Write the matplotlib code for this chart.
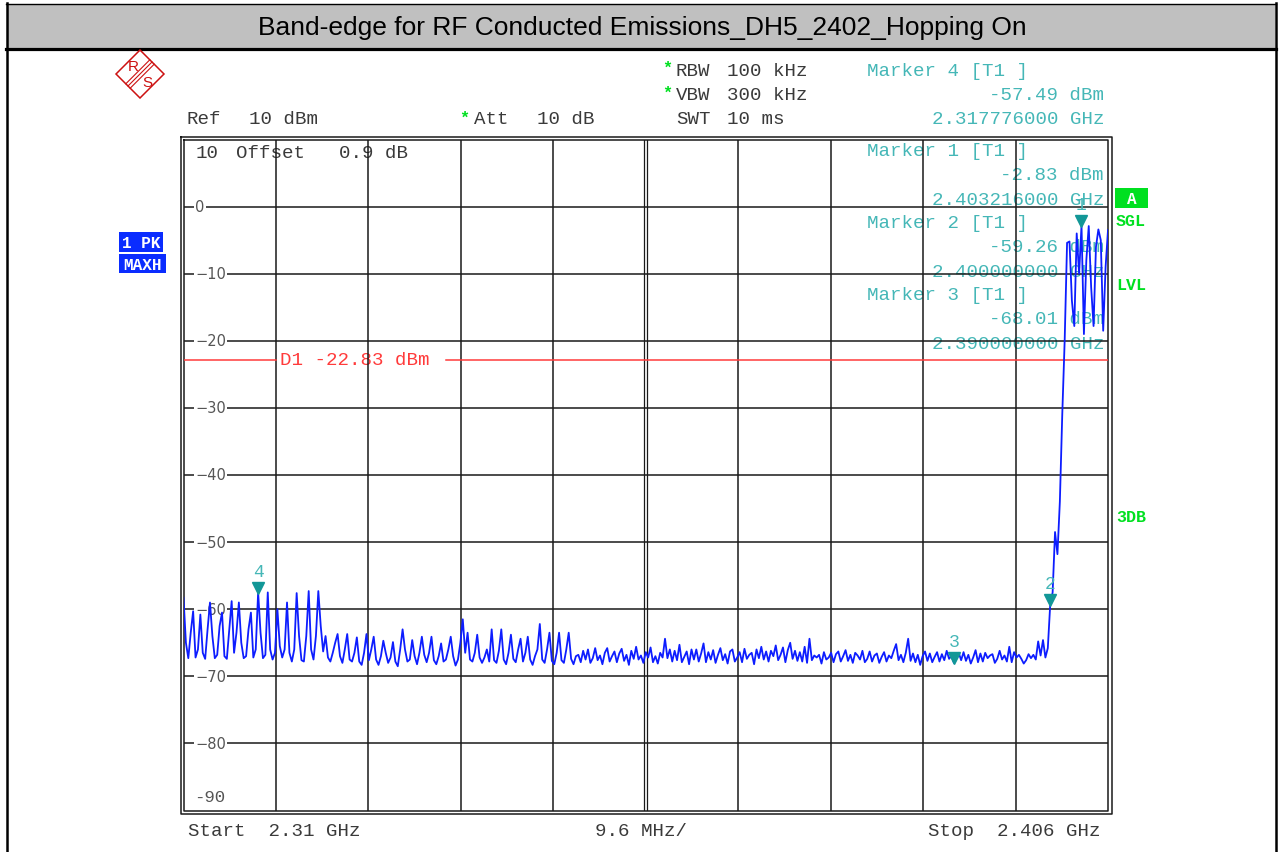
import numpy as np
import matplotlib
matplotlib.use("Agg")
import matplotlib.pyplot as plt
from matplotlib.lines import Line2D
from matplotlib.patches import Rectangle, Polygon
import matplotlib.transforms as mtransforms

# ---------------- data ----------------
title = "Band-edge for RF Conducted Emissions_DH5_2402_Hopping On"
start_mhz = 2310.0
stop_mhz = 2406.0
div_mhz = 9.6
ref_level_dbm = 10
db_per_div = 10
y_tick_values = [0, -10, -20, -30, -40, -50, -60, -70, -80]
bottom_label_value = -90
display_line_dbm = -22.83

trace_step_mhz = 0.25
# levels every 0.25 MHz, one row per MHz starting at 2310 MHz
trace_dbm = [
    -58.3, -65.0, -67.3, -63.5,   # 2310
    -60.3, -67.2, -66.0, -60.8,   # 2311
    -66.5, -67.4, -63.0, -59.0,   # 2312
    -64.0, -67.3, -66.8, -62.5,   # 2313
    -60.5, -67.0, -67.4, -63.0,   # 2314
    -58.8, -66.5, -63.5, -59.0,   # 2315
    -65.0, -67.3, -67.0, -63.0,   # 2316
    -60.5, -67.2, -66.0, -57.5,   # 2317
    -63.5, -67.3, -66.8, -57.5,   # 2318
    -66.0, -67.5, -66.5, -60.0,   # 2319
    -65.5, -67.2, -66.0, -59.0,   # 2320
    -66.5, -67.8, -66.0, -57.6,   # 2321
    -64.0, -67.6, -67.8, -64.0,   # 2322
    -57.3, -66.0, -67.5, -64.0,   # 2323
    -57.3, -62.5, -66.3, -64.0,   # 2324
    -67.2, -67.8, -66.5, -65.0,   # 2325
    -63.7, -67.0, -68.0, -66.0,   # 2326
    -63.7, -67.5, -67.8, -66.5,   # 2327
    -64.2, -67.8, -68.3, -66.5,   # 2328
    -63.7, -67.6, -66.0, -64.1,   # 2329
    -67.5, -68.3, -67.0, -64.7,   # 2330
    -66.5, -68.0, -67.2, -64.9,   # 2331
    -67.8, -68.5, -66.0, -63.0,   # 2332
    -66.0, -67.8, -67.5, -64.6,   # 2333
    -67.0, -68.2, -66.5, -64.1,   # 2334
    -66.8, -67.9, -66.5, -64.1,   # 2335
    -67.6, -68.2, -67.0, -65.1,   # 2336
    -67.8, -67.5, -66.0, -64.1,   # 2337
    -67.0, -68.4, -67.5, -65.0,   # 2338
    -61.5, -66.5, -63.5, -67.5,   # 2339
    -67.8, -66.5, -63.8, -67.2,   # 2340
    -68.0, -67.2, -66.0, -67.8,   # 2341
    -63.0, -67.6, -68.0, -66.2,   # 2342
    -63.0, -67.5, -68.2, -66.5,   # 2343
    -63.8, -67.4, -67.9, -66.0,   # 2344
    -64.4, -67.8, -66.5, -64.1,   # 2345
    -67.5, -68.3, -67.0, -66.0,   # 2346
    -62.2, -67.5, -68.0, -66.0,   # 2347
    -63.5, -67.7, -68.2, -66.5,   # 2348
    -63.5, -67.6, -68.0, -66.0,   # 2349
    -63.5, -67.4, -68.2, -67.0,   # 2350
    -66.8, -67.9, -66.2, -67.5,   # 2351
    -66.0, -68.0, -67.3, -65.8,   # 2352
    -67.6, -66.9, -68.2, -66.5,   # 2353
    -65.8, -67.8, -67.0, -66.3,   # 2354
    -67.9, -66.6, -65.9, -67.7,   # 2355
    -66.8, -68.3, -66.2, -67.4,   # 2356
    -65.6, -67.5, -66.9, -68.0,   # 2357
    -66.4, -67.2, -65.7, -67.9,   # 2358
    -67.0, -68.1, -66.5, -67.2,   # 2359
    -64.4, -67.3, -66.0, -67.8,   # 2360
    -66.2, -67.6, -65.3, -67.9,   # 2361
    -67.1, -66.3, -68.2, -66.0,   # 2362
    -67.5, -66.0, -67.8, -66.6,   # 2363
    -65.1, -67.9, -66.4, -67.5,   # 2364
    -66.1, -68.0, -66.8, -65.8,   # 2365
    -67.6, -66.7, -68.1, -66.3,   # 2366
    -66.0, -67.8, -67.2, -66.4,   # 2367
    -67.9, -65.9, -67.4, -66.8,   # 2368
    -66.5, -68.2, -66.0, -67.3,   # 2369
    -65.6, -67.5, -66.3, -67.8,   # 2370
    -66.2, -67.0, -65.4, -67.6,   # 2371
    -66.8, -65.7, -67.9, -66.1,   # 2372
    -65.0, -67.4, -66.2, -67.7,   # 2373
    -66.4, -67.8, -65.6, -68.0,   # 2374
    -64.4, -67.6, -66.9, -67.2,   # 2375
    -66.8, -68.1, -66.4, -67.5,   # 2376
    -67.2, -66.5, -67.9, -66.7,   # 2377
    -66.3, -67.8, -67.0, -66.1,   # 2378
    -67.7, -66.8, -68.0, -66.5,   # 2379
    -66.9, -67.5, -66.2, -67.9,   # 2380
    -67.4, -66.3, -67.8, -66.9,   # 2381
    -66.6, -68.0, -67.1, -66.4,   # 2382
    -67.8, -66.9, -67.3, -66.2,   # 2383
    -65.2, -67.6, -66.8, -67.9,   # 2384
    -66.5, -64.4, -67.7, -66.6,   # 2385
    -67.9, -66.8, -68.3, -67.0,   # 2386
    -66.3, -67.7, -66.6, -67.9,   # 2387
    -67.1, -66.4, -67.8, -66.7,   # 2388
    -67.6, -66.2, -67.4, -66.9,   # 2389
    -68.0, -67.0, -66.5, -67.6,   # 2390
    -66.4, -67.7, -66.8, -68.1,   # 2391
    -67.2, -66.1, -67.9, -66.6,   # 2392
    -67.8, -66.5, -67.3, -66.9,   # 2393
    -66.7, -68.0, -67.4, -66.2,   # 2394
    -67.5, -66.9, -67.8, -65.6,   # 2395
    -67.9, -66.4, -67.2, -66.8,   # 2396
    -67.4, -68.1, -67.6, -66.7,   # 2397
    -67.3, -66.8, -67.5, -64.8,   # 2398
    -66.9, -64.6, -67.2, -65.8,   # 2399
    -59.3, -57.5, -48.5, -51.8,   # 2400
    -44.0, -31.0, -20.0, -5.4,    # 2401
    -5.2, -14.0, -17.8, -4.0,     # 2402
    -10.0, -2.83, -19.0, -8.0,    # 2403
    -2.9, -12.0, -17.8, -6.0,     # 2404
    -3.4, -5.0, -18.5, -9.0,      # 2405
    -3.5,                         # 2406
]

marker_ids = [4, 1, 2, 3]
marker_freq_ghz = [2.317776, 2.403216, 2.400000, 2.390000]
marker_dbm = [-57.49, -2.83, -59.26, -68.01]

# ---------------- layout ----------------
W, H = 1279, 853
fig = plt.figure(figsize=(W / 100, H / 100), dpi=100)
fig.patch.set_facecolor("white")

AX_L, AX_R, AX_T, AX_B = 183.5, 1108.0, 140.5, 811.5
ax = fig.add_axes([AX_L / W, 1 - AX_B / H, (AX_R - AX_L) / W, (AX_B - AX_T) / H])
ax.set_xlim(start_mhz, stop_mhz)
ax.set_ylim(ref_level_dbm - 10 * db_per_div, ref_level_dbm)
ax.axis("off")

MONO = "Liberation Mono"
SANS = "Liberation Sans"
TEAL_TXT = "#45b7b7"
TEAL_MK = "#129797"
GREEN = "#00e020"
BLUE_BOX = "#0a2cff"
RED = "#ff3b3b"
GRID = "#1a1a1a"
TXT = "#3a3a3a"

figT = fig.transFigure


def fx(x):
    return x / W


def fy(y):
    return 1 - y / H


def ftext(x, y, s, **kw):
    kw.setdefault("clip_on", False)
    kw.setdefault("zorder", 0.5)
    return ax.text(fx(x), fy(y), s, transform=figT, **kw)


def fline(xs, ys, **kw):
    ln = Line2D([fx(v) for v in xs], [fy(v) for v in ys], transform=figT, **kw)
    ln.set_clip_on(False)
    ax.add_artist(ln)


# title bar and outer border
ax.add_artist(Rectangle((fx(7), fy(49)), fx(1275) - fx(7), fy(5) - fy(49),
                        transform=figT, facecolor="#c0c0c0", edgecolor="none",
                        clip_on=False, zorder=0.1))
fline([6, 1276], [5, 5], color="black", lw=1.0, zorder=0.2)
fline([6, 1276], [49.5, 49.5], color="black", lw=2.3, zorder=0.2)
fline([6.5, 6.5], [4, 853], color="black", lw=1.8, zorder=0.2)
fline([1275.5, 1275.5], [4, 853], color="black", lw=1.8, zorder=0.2)
ftext(642, 28, title, fontsize=19, family=SANS, color="black",
      ha="center", va="center")

# R&S logo
cx, cy, r = 140, 75, 24
ax.add_artist(Polygon([(fx(cx - r), fy(cy)), (fx(cx), fy(cy - r)),
                       (fx(cx + r), fy(cy)), (fx(cx), fy(cy + r))],
                      closed=True, transform=figT, facecolor="none",
                      edgecolor="#cc1111", lw=1.1, clip_on=False))
for off in (-2.2, 0, 2.2):
    fline([cx - r / 2 + off, cx + r / 2 + off], [cy + r / 2 + off, cy - r / 2 + off],
          color="#cc1111", lw=0.8)
ftext(133, 67, "R", fontsize=11, family=SANS, color="#cc1111", ha="center", va="center")
ftext(147, 83, "S", fontsize=11, family=SANS, color="#cc1111", ha="center", va="center")

# header texts
FS = 13.8
ftext(186, 120, "Ref", fontsize=FS, family=MONO, color=TXT, va="center")
ftext(249, 120, "10 dBm", fontsize=FS, family=MONO, color=TXT, va="center")
ftext(459, 118, "*", fontsize=12, family=MONO, color=GREEN, va="center", weight="bold")
ftext(474, 120, "Att", fontsize=FS, family=MONO, color=TXT, va="center")
ftext(537, 120, "10 dB", fontsize=FS, family=MONO, color=TXT, va="center")
ftext(662, 68, "*", fontsize=12, family=MONO, color=GREEN, va="center", weight="bold")
ftext(676, 71, "RBW", fontsize=FS, family=MONO, color=TXT, va="center")
ftext(727, 71, "100 kHz", fontsize=FS, family=MONO, color=TXT, va="center")
ftext(662, 93, "*", fontsize=12, family=MONO, color=GREEN, va="center", weight="bold")
ftext(676, 96, "VBW", fontsize=FS, family=MONO, color=TXT, va="center")
ftext(727, 96, "300 kHz", fontsize=FS, family=MONO, color=TXT, va="center")
ftext(676, 120, "SWT", fontsize=FS, family=MONO, color=TXT, va="center")
ftext(727, 120, "10 ms", fontsize=FS, family=MONO, color=TXT, va="center")
ftext(196, 154, "10", fontsize=FS, family=MONO, color=TXT, va="center")
ftext(236, 154, "Offset", fontsize=FS, family=MONO, color=TXT, va="center")
ftext(339, 154, "0.9 dB", fontsize=FS, family=MONO, color=TXT, va="center")

# marker info block
block_y = [71, 152, 224, 296]
for mid, mf, md, by in zip(marker_ids, marker_freq_ghz, marker_dbm, block_y):
    ftext(867, by, f"Marker {mid} [T1 ]", fontsize=FS, family=MONO, color=TEAL_TXT, va="center")
    ftext(1104, by + 24, f"{md:.2f} dBm", fontsize=FS, family=MONO, color=TEAL_TXT,
          va="center", ha="right")
    ftext(1104, by + 48.5, f"{mf:.9f} GHz", fontsize=FS, family=MONO, color=TEAL_TXT,
          va="center", ha="right")

# bottom texts
ftext(188, 832, "Start  2.31 GHz", fontsize=FS, family=MONO, color=TXT, va="center")
ftext(641, 832, "9.6 MHz/", fontsize=FS, family=MONO, color=TXT, va="center", ha="center")
ftext(1100, 832, "Stop  2.406 GHz", fontsize=FS, family=MONO, color=TXT, va="center", ha="right")

# side annotations
ax.add_artist(Rectangle((fx(1115), fy(209)), fx(1148) - fx(1115), fy(189) - fy(209),
                        transform=figT, facecolor=GREEN, edgecolor="none", clip_on=False))
ftext(1131.5, 199.5, "A", fontsize=11.5, family=MONO, color="white", weight="bold",
      ha="center", va="center", zorder=5)
for s, yy in (("SGL", 221), ("LVL", 285), ("3DB", 518)):
    ftext(1116, yy, s, fontsize=12, family=MONO, color=GREEN, weight="bold", va="center")
for s, (y0, y1, x1) in (("1 PK", (233, 253, 163)), ("MAXH", (255, 274, 166))):
    ax.add_artist(Rectangle((fx(119), fy(y1)), fx(x1) - fx(119), fy(y0) - fy(y1),
                            transform=figT, facecolor=BLUE_BOX, edgecolor="none",
                            clip_on=False))
    ftext((119 + x1) / 2, (y0 + y1) / 2 + 0.5, s, fontsize=11.5, family=MONO,
          color="white", weight="bold", ha="center", va="center", zorder=5)

# grid
for i in range(1, 10):
    f = start_mhz + i * div_mhz
    if i == 5:
        for dx in (-1.5, 1.5):
            tr = ax.get_xaxis_transform() + mtransforms.ScaledTranslation(dx / 100, 0, fig.dpi_scale_trans)
            ax.plot([f, f], [0, 1], transform=tr, color=GRID, lw=0.9, zorder=1)
    else:
        ax.axvline(f, color=GRID, lw=1.1, zorder=1)
for v in y_tick_values:
    ax.axhline(v, color=GRID, lw=1.1, zorder=1)

# frame (double line)
fline([AX_L, AX_R, AX_R, AX_L, AX_L], [AX_T, AX_T, AX_B, AX_B, AX_T], color=GRID, lw=1.1, zorder=1.5)
fline([180.5, 1111.5, 1111.5, 180.5, 180.5], [137.5, 137.5, 815, 815, 137.5],
      color=GRID, lw=1.1, zorder=1.5)

# y labels inside plot
lab_tr = mtransforms.blended_transform_factory(figT, ax.transData)
for v in y_tick_values:
    s = str(v).replace("-", "\u2212")
    ax.text(fx(195), v, s, transform=lab_tr, fontsize=10.5, family="DejaVu Sans", color="#555555",
            ha="left", va="center", zorder=2,
            bbox=dict(facecolor="white", edgecolor="none", pad=1.0))
lab90_tr = lab_tr + mtransforms.ScaledTranslation(0, 14 / 100, fig.dpi_scale_trans)
ax.text(fx(194), bottom_label_value, str(bottom_label_value), transform=lab90_tr,
        fontsize=12.5, family=MONO, color="#555555", ha="left", va="center", zorder=2)

# display line D1
d1_tr = mtransforms.blended_transform_factory(ax.transAxes, ax.transData)
gap0 = (276 - AX_L) / (AX_R - AX_L)
gap1 = (446 - AX_L) / (AX_R - AX_L)
ax.plot([0, gap0], [display_line_dbm] * 2, transform=d1_tr, color=RED, lw=1.1, zorder=2.5)
ax.plot([gap1, 1], [display_line_dbm] * 2, transform=d1_tr, color=RED, lw=1.1, zorder=2.5)
ax.text(fx(280), display_line_dbm, f"D1 {display_line_dbm:.2f} dBm", transform=lab_tr,
        fontsize=FS, family=MONO, color=RED, ha="left", va="center", zorder=0.6)

# trace
freqs = start_mhz + trace_step_mhz * np.arange(len(trace_dbm))
ax.plot(freqs, trace_dbm, color="#0d1dff", lw=1.3, zorder=3, clip_on=True)

# markers
tri_tr = ax.transData + mtransforms.ScaledTranslation(0, 4.5 / 100, fig.dpi_scale_trans)
num_tr = ax.transData + mtransforms.ScaledTranslation(0, 21 / 100, fig.dpi_scale_trans)
for mid, mf, md in zip(marker_ids, marker_freq_ghz, marker_dbm):
    ax.plot([mf * 1000], [md], marker="v", ms=8.5, color=TEAL_MK, mec=TEAL_MK,
            transform=tri_tr, zorder=4, clip_on=False)
    ax.text(mf * 1000, md, str(mid), transform=num_tr, fontsize=13, family=MONO,
            color=TEAL_TXT, ha="center", va="center", zorder=4)

fig.savefig("out.png", dpi=100, facecolor="white")
